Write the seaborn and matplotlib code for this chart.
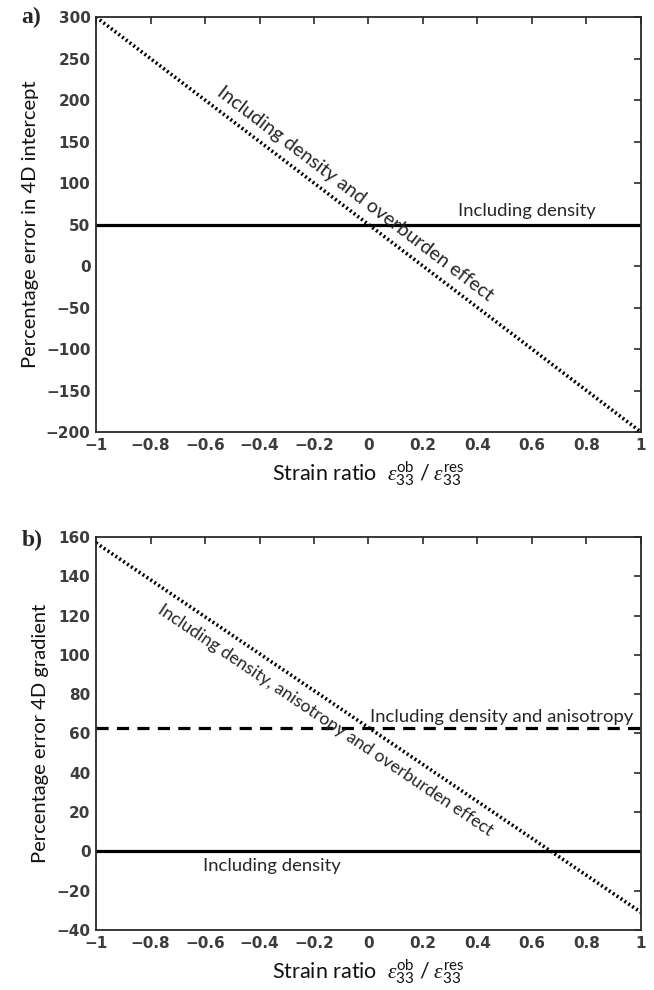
import numpy as np
import pandas as pd
import matplotlib
matplotlib.use("Agg")
import matplotlib.pyplot as plt
import seaborn as sns

# data
strain = [-1.0, 1.0]
a_density = [50, 50]
a_density_ob = [300, -200]
b_density = [0, 0]
b_density_aniso = [63, 63]
b_density_aniso_ob = [157, -31]

a_yticks = [-200, -150, -100, -50, 0, 50, 100, 150, 200, 250, 300]
b_yticks = [-40, -20, 0, 20, 40, 60, 80, 100, 120, 140, 160]
xticks = [-1, -0.8, -0.6, -0.4, -0.2, 0, 0.2, 0.4, 0.6, 0.8, 1]
xtick_labels = ["\u22121", "\u22120.8", "\u22120.6", "\u22120.4", "\u22120.2",
                "0", "0.2", "0.4", "0.6", "0.8", "1"]

sns.set_theme(style="white")
plt.rcParams["font.family"] = ["Lato", "DejaVu Sans"]
plt.rcParams["mathtext.fontset"] = "custom"
plt.rcParams["mathtext.rm"] = "Lato"
plt.rcParams["mathtext.it"] = "Liberation Serif:italic"
plt.rcParams["axes.unicode_minus"] = True

fig = plt.figure(figsize=(6.54, 9.9), dpi=100)
ax_a = fig.add_axes([0.1468, 0.5636, 0.8333, 0.4192])
ax_b = fig.add_axes([0.1468, 0.0606, 0.8333, 0.397])

dotted = (0, (0.55, 0.75))
dashed = (0, (3.8, 2.6))

df_a = pd.DataFrame({"x": strain * 2,
                     "y": a_density + a_density_ob,
                     "case": ["d"] * 2 + ["dob"] * 2})
sns.lineplot(data=df_a[df_a.case == "d"], x="x", y="y", ax=ax_a,
             color="black", lw=2.3)
sns.lineplot(data=df_a[df_a.case == "dob"], x="x", y="y", ax=ax_a,
             color="black", lw=2.6, linestyle=dotted)

df_b = pd.DataFrame({"x": strain * 3,
                     "y": b_density + b_density_aniso + b_density_aniso_ob,
                     "case": ["d"] * 2 + ["da"] * 2 + ["dao"] * 2})
sns.lineplot(data=df_b[df_b.case == "d"], x="x", y="y", ax=ax_b,
             color="black", lw=2.3)
sns.lineplot(data=df_b[df_b.case == "da"], x="x", y="y", ax=ax_b,
             color="black", lw=2.3, linestyle=dashed)
sns.lineplot(data=df_b[df_b.case == "dao"], x="x", y="y", ax=ax_b,
             color="black", lw=2.6, linestyle=dotted)

xlabel = (r"Strain ratio  $\varepsilon_{33}^{\mathrm{ob}}\ /\ "
          r"\varepsilon_{33}^{\mathrm{res}}$")
tick_color = "#3c3c3c"

for ax, yt, ylab in [(ax_a, a_yticks, "Percentage error in 4D intercept"),
                     (ax_b, b_yticks, "Percentage error 4D gradient")]:
    ax.set_xlim(-1, 1)
    ax.set_ylim(yt[0], yt[-1])
    ax.set_xticks(xticks)
    ax.set_xticklabels(xtick_labels)
    ax.set_yticks(yt)
    ax.set_yticklabels([str(v).replace("-", "\u2212") for v in yt])
    ax.tick_params(direction="in", length=5, width=1.2, top=True, right=True,
                   colors="#2a2a2a", pad=4)
    for lab in ax.get_xticklabels() + ax.get_yticklabels():
        lab.set_family(["DejaVu Sans"])
        lab.set_fontweight("bold")
        lab.set_fontsize(11)
        lab.set_color(tick_color)
    for sp in ax.spines.values():
        sp.set_visible(True)
        sp.set_color("#2a2a2a")
        sp.set_linewidth(1.3)
    ax.set_xlabel(xlabel, fontsize=15.5, labelpad=5, color="#111111")
    ax.set_ylabel(ylab, fontsize=14.5, labelpad=5, color="#111111")
    ax.grid(False)

fs = 13.3
# annotations, panel a
ax_a.text(0.328, 66, "Including density", fontsize=fs, ha="left", va="center")
ax_a.text(-0.05, 50 + 250 * 0.05 + 25, "Including density and overburden effect",
          fontsize=14, ha="center", va="center", rotation=-37.3,
          rotation_mode="anchor")

# annotations, panel b
ax_b.text(0.006, 68.5, "Including density and anisotropy", fontsize=fs,
          ha="left", va="center")
ax_b.text(-0.607, -7.5, "Including density", fontsize=fs, ha="left", va="center")
ax_b.text(-0.16, 62.5 + 93.75 * 0.16 - 11,
          "Including density, anisotropy and overburden effect",
          fontsize=12.7, ha="center", va="center", rotation=-34.0,
          rotation_mode="anchor")

fig.text(0.033, 1 - 17 / 990, "a)", fontsize=17, fontweight="bold",
         family=["Liberation Serif"], ha="left", va="center")
fig.text(0.033, 1 - 540 / 990, "b)", fontsize=17, fontweight="bold",
         family=["Liberation Serif"], ha="left", va="center")

fig.savefig("out.png", dpi=100, facecolor="white")
